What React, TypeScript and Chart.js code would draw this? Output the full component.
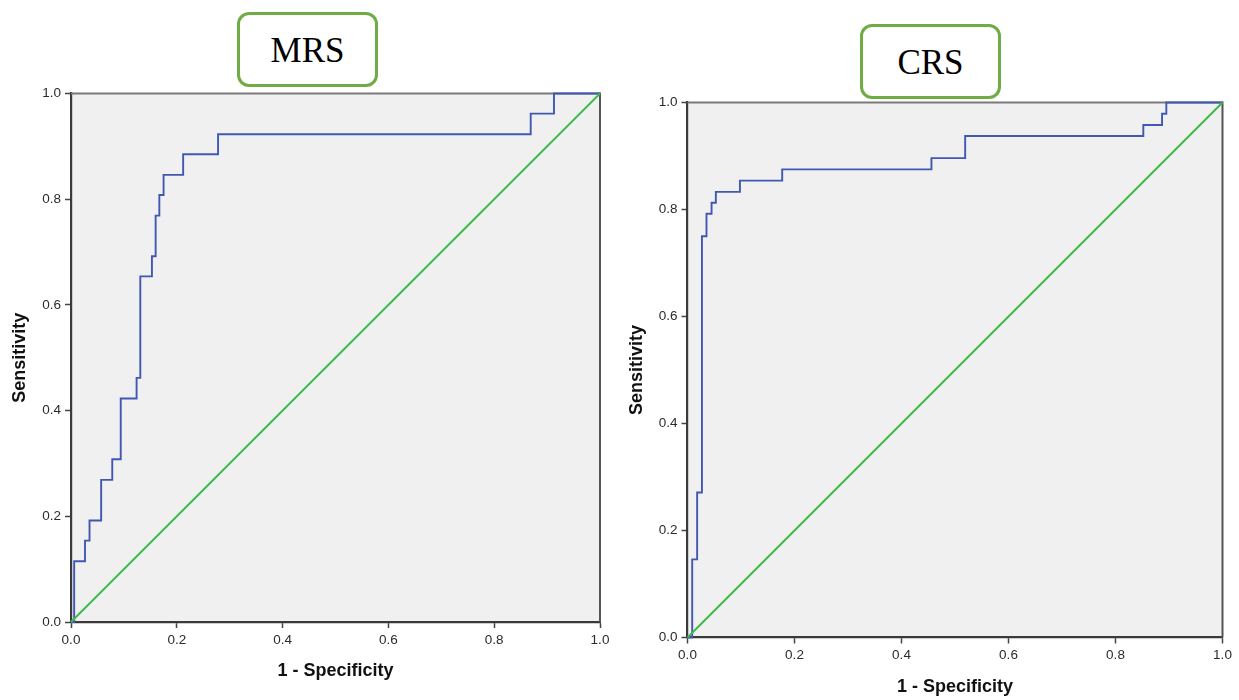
import React, { useEffect, useRef } from "react";
import { Chart, registerables } from "chart.js";

Chart.register(...registerables);

// ---- data ----
const mrsFpr = [0, 0.006, 0.0265, 0.035, 0.057, 0.078, 0.094, 0.124, 0.131, 0.153, 0.16, 0.167, 0.175, 0.212, 0.278, 0.869, 0.913, 1.0];
const mrsSens = [0, 0.115, 0.154, 0.192, 0.269, 0.308, 0.423, 0.462, 0.654, 0.692, 0.769, 0.808, 0.846, 0.885, 0.923, 0.962, 1.0, 1.0];
const crsFpr = [0, 0.0088, 0.018, 0.027, 0.0355, 0.045, 0.053, 0.098, 0.177, 0.456, 0.519, 0.852, 0.887, 0.895, 1.0];
const crsSens = [0, 0.146, 0.271, 0.75, 0.792, 0.8125, 0.833, 0.854, 0.875, 0.896, 0.9375, 0.958, 0.979, 1.0, 1.0];
const refX = [0, 1];
const refY = [0, 1];
const tickValues = [0, 0.2, 0.4, 0.6, 0.8, 1.0];
const xTitle = "1 - Specificity";
const yTitle = "Sensitivity";
const panelTitles = ["MRS", "CRS"];

const SANS = "'Liberation Sans', Arial, sans-serif";

const framePlugin = {
  id: "frame",
  beforeDraw(chart: any) {
    const { ctx, chartArea: a } = chart;
    ctx.save();
    ctx.fillStyle = "#f0f0f0";
    ctx.fillRect(a.left, a.top, a.right - a.left, a.bottom - a.top);
    ctx.restore();
  },
  beforeDatasetsDraw(chart: any) {
    const { ctx, chartArea: a } = chart;
    ctx.save();
    ctx.lineWidth = 2;
    ctx.strokeStyle = "#7a7a7a";
    ctx.beginPath();
    ctx.moveTo(a.left, a.top);
    ctx.lineTo(a.right, a.top);
    ctx.stroke();
    ctx.strokeStyle = "#555555";
    ctx.beginPath();
    ctx.moveTo(a.right, a.top - 1);
    ctx.lineTo(a.right, a.bottom);
    ctx.stroke();
    ctx.restore();
  },
};

type PanelProps = {
  fpr: number[];
  sens: number[];
  left: number;
  top: number;
  width: number;
  height: number;
  yAxisWidth: number;
  xAxisHeight: number;
  padTop: number;
  padRight: number;
  yTitlePad: number;
  xTitlePad: number;
};

function RocPanel(p: PanelProps) {
  const ref = useRef<HTMLCanvasElement | null>(null);
  useEffect(() => {
    if (!ref.current) return;
    const curve = p.fpr.map((x, i) => ({ x, y: p.sens[i] }));
    const diag = refX.map((x, i) => ({ x, y: refY[i] }));
    const tickCfg = {
      color: "#2b2b2b",
      font: { family: SANS, size: 13.5 },
      padding: 4,
      autoSkip: false,
      maxRotation: 0,
      callback: (v: any) => Number(v).toFixed(1),
    };
    const gridCfg = {
      drawOnChartArea: false,
      drawTicks: true,
      tickLength: 6,
      tickColor: "#444444",
      tickWidth: 1.5,
    };
    const chart = new Chart(ref.current, {
      type: "line",
      data: {
        datasets: [
          {
            data: diag,
            borderColor: "#3dbb48",
            borderWidth: 1.9,
            pointRadius: 0,
            fill: false,
            clip: false as any,
          },
          {
            data: curve,
            borderColor: "#4158b2",
            borderWidth: 1.9,
            pointRadius: 0,
            fill: false,
            stepped: "before",
            clip: false as any,
          },
        ],
      },
      options: {
        animation: false,
        responsive: false,
        layout: { padding: { top: p.padTop, right: p.padRight, left: 0, bottom: 0 } },
        plugins: { legend: { display: false }, tooltip: { enabled: false } },
        scales: {
          x: {
            type: "linear",
            min: 0,
            max: 1,
            afterBuildTicks: (s: any) => {
              s.ticks = tickValues.map((v) => ({ value: v }));
            },
            afterFit: (s: any) => {
              s.height = p.xAxisHeight;
            },
            ticks: tickCfg as any,
            grid: gridCfg as any,
            border: { display: true, color: "#3a3a3a", width: 2.2 },
            title: {
              display: true,
              text: xTitle,
              color: "#111111",
              font: { family: SANS, size: 18, weight: "bold" },
              padding: { top: 0, bottom: p.xTitlePad },
            },
          },
          y: {
            type: "linear",
            min: 0,
            max: 1,
            afterBuildTicks: (s: any) => {
              s.ticks = tickValues.map((v) => ({ value: v }));
            },
            afterFit: (s: any) => {
              s.width = p.yAxisWidth;
            },
            ticks: tickCfg as any,
            grid: gridCfg as any,
            border: { display: true, color: "#3a3a3a", width: 2.2 },
            title: {
              display: true,
              text: yTitle,
              color: "#111111",
              font: { family: SANS, size: 18, weight: "bold" },
              padding: { top: p.yTitlePad, bottom: 0 },
            },
          },
        },
      } as any,
      plugins: [framePlugin],
    });
    return () => chart.destroy();
  }, []);
  return (
    <canvas
      ref={ref}
      width={p.width}
      height={p.height}
      style={{ position: "absolute", left: p.left, top: p.top, width: p.width, height: p.height }}
    />
  );
}

function TitleBox({ text, left, top }: { text: string; left: number; top: number }) {
  return (
    <div
      style={{
        position: "absolute",
        left,
        top,
        width: 141,
        height: 75,
        boxSizing: "border-box",
        border: "3px solid #6fac46",
        borderRadius: 12,
        background: "#ffffff",
        display: "flex",
        alignItems: "center",
        justifyContent: "center",
        paddingTop: 3,
        fontFamily: "'Liberation Serif', 'Times New Roman', serif",
        fontSize: 35,
        color: "#000000",
      }}
    >
      {text}
    </div>
  );
}

export default function App() {
  return (
    <div style={{ position: "absolute", left: 0, top: 0, width: 1239, height: 700, background: "#ffffff", overflow: "hidden" }}>
      <RocPanel
        fpr={mrsFpr}
        sens={mrsSens}
        left={0}
        top={80}
        width={615}
        height={620}
        yAxisWidth={71}
        xAxisHeight={78}
        padTop={13.5}
        padRight={15}
        yTitlePad={9.2}
        xTitlePad={18.2}
      />
      <RocPanel
        fpr={crsFpr}
        sens={crsSens}
        left={620}
        top={88}
        width={619}
        height={612}
        yAxisWidth={67.5}
        xAxisHeight={62.5}
        padTop={14.5}
        padRight={16.5}
        yTitlePad={6.2}
        xTitlePad={2.2}
      />
      <TitleBox text={panelTitles[0]} left={237} top={12} />
      <TitleBox text={panelTitles[1]} left={860} top={24} />
    </div>
  );
}
